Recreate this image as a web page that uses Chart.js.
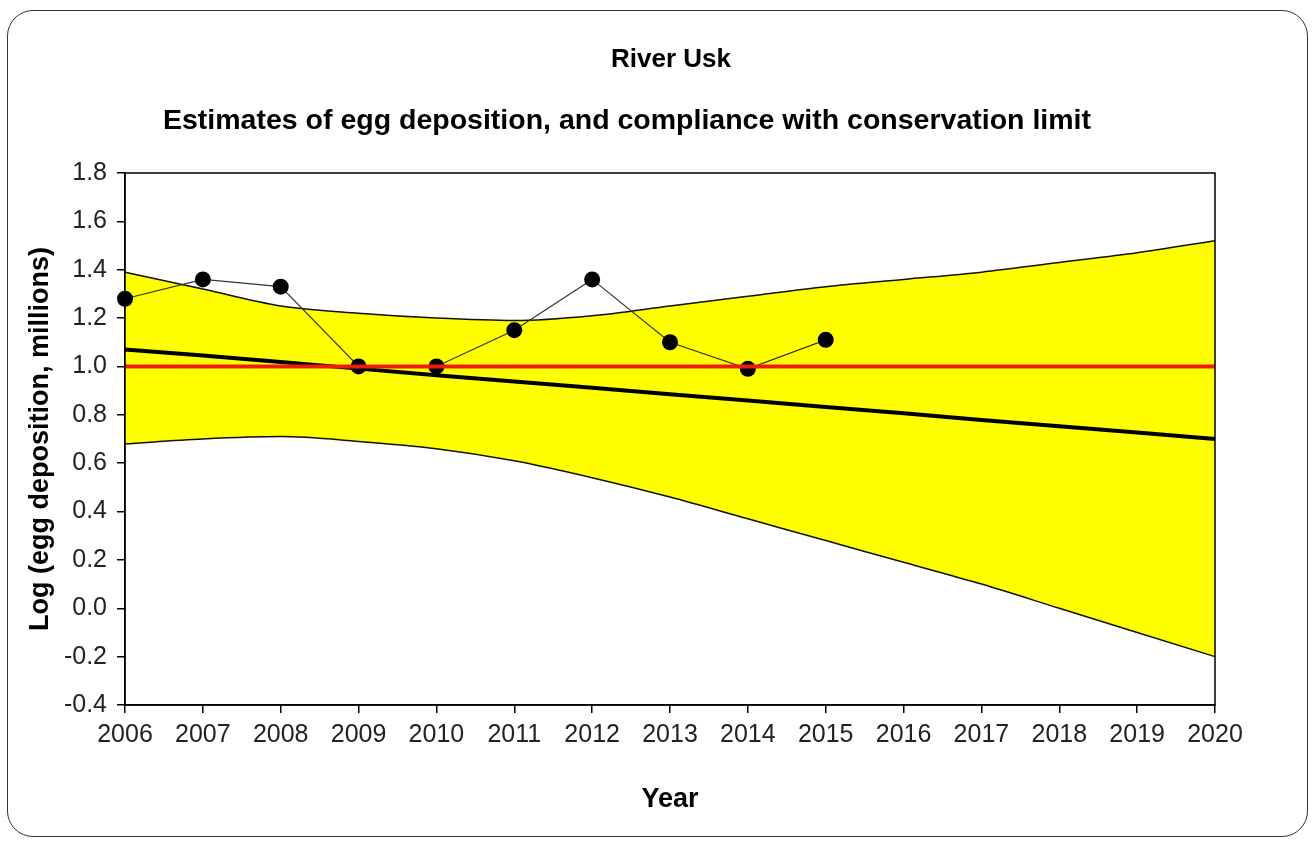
<!DOCTYPE html>
<html>
<head>
<meta charset="utf-8">
<title>River Usk – egg deposition</title>
<script src="https://cdn.jsdelivr.net/npm/chart.js@4.4.1/dist/chart.umd.min.js"></script>
<style>
  html, body { margin: 0; padding: 0; background: #ffffff; }
  #wrap { position: relative; width: 1315px; height: 841px; }
  #chart { position: absolute; left: 0; top: 0; }
  #frame {
    position: absolute; left: 7px; top: 10px; width: 1301px; height: 827px;
    box-sizing: border-box; border: 1.5px solid #333; border-radius: 26px;
    pointer-events: none;
  }
</style>
</head>
<body>
<div id="wrap">
  <canvas id="chart" width="1315" height="841"></canvas>
  <div id="frame"></div>
</div>
<script>
// Years on the x axis
const years = ['2006','2007','2008','2009','2010','2011','2012','2013','2014','2015','2016','2017','2018','2019','2020'];

// Observed log egg deposition (millions), 2006–2015
const observed = [1.28, 1.36, 1.33, 1.00, 1.00, 1.15, 1.36, 1.10, 0.99, 1.11];

// Fitted trend and its confidence band
const trend = [1.070, 1.045, 1.018, 0.991, 0.964, 0.938, 0.912, 0.885, 0.859, 0.832, 0.806, 0.779, 0.753, 0.727, 0.700];
const upperBand = [1.39, 1.32, 1.25, 1.22, 1.20, 1.19, 1.21, 1.25, 1.29, 1.33, 1.36, 1.39, 1.43, 1.47, 1.52];
const lowerBand = [0.68, 0.70, 0.71, 0.69, 0.66, 0.61, 0.54, 0.46, 0.37, 0.28, 0.19, 0.10, 0.00, -0.10, -0.20];

// Conservation limit
const conservationLimit = [1.0, 1.0, 1.0, 1.0, 1.0, 1.0, 1.0, 1.0, 1.0, 1.0, 1.0, 1.0, 1.0, 1.0, 1.0];

// Y axis range and tick step
const yMin = -0.4, yMax = 1.8, yStep = 0.2;

// Heading lines
const riverName = 'River Usk';
const chartHeading = 'Estimates of egg deposition, and compliance with conservation limit';

const FONT = "'Liberation Sans', Arial, Helvetica, sans-serif";

// Box round the plot area
const plotFrame = {
  id: 'plotFrame',
  afterDatasetsDraw(chart) {
    const a = chart.chartArea, ctx = chart.ctx;
    ctx.save();
    ctx.strokeStyle = '#000';
    ctx.lineWidth = 1.5;
    ctx.strokeRect(a.left, a.top, a.right - a.left, a.bottom - a.top);
    ctx.restore();
  }
};

// Two heading lines above the plot
const headings = {
  id: 'headings',
  afterDraw(chart) {
    const ctx = chart.ctx;
    ctx.save();
    ctx.fillStyle = '#000';
    ctx.textAlign = 'center';
    ctx.textBaseline = 'middle';
    ctx.font = 'bold 26px ' + FONT;
    ctx.fillText(riverName, 671, 60);
    ctx.font = 'bold 28.5px ' + FONT;
    ctx.fillText(chartHeading, 627, 121);
    ctx.restore();
  }
};

new Chart(document.getElementById('chart'), {
  type: 'line',
  data: {
    labels: years,
    datasets: [
      {
        label: 'Conservation limit',
        data: conservationLimit,
        borderColor: '#f01a0a',
        borderWidth: 4,
        pointRadius: 0,
        fill: false,
        order: 0
      },
      {
        label: 'Egg deposition',
        data: observed,
        borderColor: '#333333',
        borderWidth: 1.2,
        pointRadius: 8,
        pointBackgroundColor: '#000',
        pointBorderColor: '#000',
        pointBorderWidth: 0,
        fill: false,
        order: 1
      },
      {
        label: 'Trend',
        data: trend,
        borderColor: '#000',
        borderWidth: 4,
        pointRadius: 0,
        fill: false,
        order: 2
      },
      {
        label: 'Upper limit',
        data: upperBand,
        borderColor: '#111',
        borderWidth: 1.5,
        pointRadius: 0,
        cubicInterpolationMode: 'monotone',
        fill: 4,
        backgroundColor: '#ffff00',
        order: 3
      },
      {
        label: 'Lower limit',
        data: lowerBand,
        borderColor: '#111',
        borderWidth: 1.5,
        pointRadius: 0,
        cubicInterpolationMode: 'monotone',
        fill: false,
        order: 4
      }
    ]
  },
  options: {
    responsive: false,
    animation: false,
    layout: { padding: { left: 0, right: 100, top: 173, bottom: 0 } },
    plugins: {
      legend: { display: false },
      tooltip: { enabled: false },
      filler: { drawTime: 'beforeDatasetsDraw' },
      title: { display: false },
      subtitle: { display: false }
    },
    scales: {
      x: {
        type: 'category',
        offset: false,
        afterFit(scale) { scale.height = 136; },
        border: { display: true, color: '#000', width: 1.5 },
        grid: { display: true, drawOnChartArea: false, drawTicks: true, tickLength: 8, color: '#000', lineWidth: 1.5 },
        ticks: { color: '#222', padding: 7, maxRotation: 0, autoSkip: false, font: { family: FONT, size: 25 } },
        title: {
          display: true,
          text: 'Year',
          color: '#000',
          font: { family: FONT, size: 27, weight: 'bold', lineHeight: 1.2 },
          padding: { top: 0, bottom: 25 }
        }
      },
      y: {
        min: yMin,
        max: yMax,
        afterFit(scale) { scale.width = 125; },
        border: { display: true, color: '#000', width: 1.5 },
        grid: { display: true, drawOnChartArea: false, drawTicks: true, tickLength: 8, color: '#000', lineWidth: 1.5 },
        ticks: {
          stepSize: yStep,
          color: '#222',
          padding: 10,
          font: { family: FONT, size: 25 },
          callback: (v) => Number(v).toFixed(1)
        },
        title: {
          display: true,
          text: 'Log (egg deposition, millions)',
          color: '#000',
          font: { family: FONT, size: 27, weight: 'bold', lineHeight: 1.2 },
          padding: { top: 24, bottom: 0 }
        }
      }
    }
  },
  plugins: [plotFrame, headings]
});
</script>
</body>
</html>
